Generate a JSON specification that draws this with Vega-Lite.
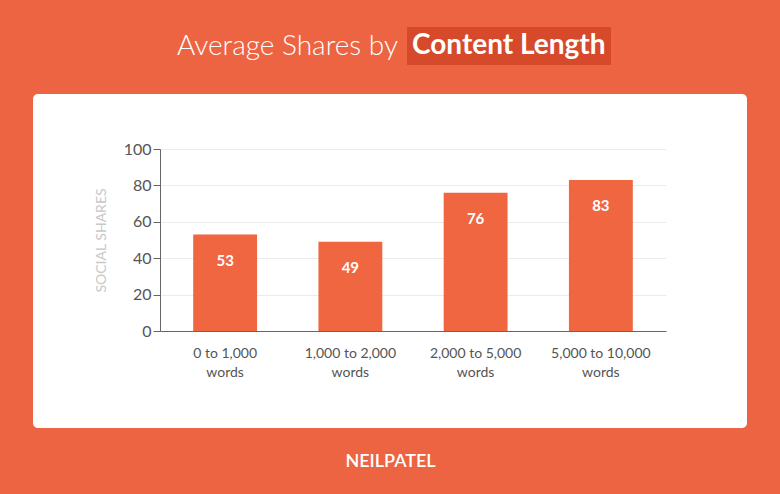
{
  "$schema": "https://vega.github.io/schema/vega-lite/v6.json",
  "width": 714,
  "height": 334,
  "autosize": {"type": "none"},
  "padding": {"left": 33, "top": 94, "right": 33, "bottom": 66},
  "background": "#EC6441",
  "title": {
    "text": "Average Shares by",
    "font": "Lato",
    "fontWeight": 300,
    "fontSize": 28,
    "color": "white",
    "anchor": "middle",
    "align": "right",
    "dx": 8,
    "baseline": "alphabetic",
    "offset": -56
  },
  "data": {
    "values": [
      {"length": "0 to 1,000 words", "shares": 53},
      {"length": "1,000 to 2,000 words", "shares": 49},
      {"length": "2,000 to 5,000 words", "shares": 76},
      {"length": "5,000 to 10,000 words", "shares": 83}
    ]
  },
  "encoding": {
    "x": {
      "field": "length",
      "type": "nominal",
      "sort": null,
      "scale": {"range": [127, 633], "paddingInner": 0.49, "paddingOuter": 0.265},
      "axis": {
        "title": "NEILPATEL",
        "offset": -97,
        "domainColor": "#666666",
        "ticks": false,
        "labelAngle": 0,
        "labelExpr": "[replace(datum.label, ' words', ''), 'words']",
        "labelFont": "Lato",
        "labelFontSize": 14,
        "labelColor": "#555555",
        "labelLineHeight": 19,
        "labelPadding": 15,
        "titleX": 357,
        "titleY": 130,
        "titleFont": "Lato",
        "titleColor": "white",
        "titleFontSize": 18,
        "titleFontWeight": 600,
        "titleBaseline": "middle",
        "titleAlign": "center"
      }
    },
    "y": {
      "field": "shares",
      "type": "quantitative",
      "scale": {"domain": [0, 100], "range": [237, 55], "nice": false},
      "axis": {
        "title": "SOCIAL SHARES",
        "values": [0, 20, 40, 60, 80, 100],
        "offset": -127,
        "grid": true,
        "gridColor": "#EBEBEB",
        "domainColor": "#666666",
        "tickColor": "#666666",
        "tickSize": 7,
        "labelFont": "Lato",
        "labelFontSize": 16,
        "labelColor": "#555555",
        "labelPadding": 2,
        "titleFont": "Lato",
        "titleColor": "#C8C8C8",
        "titleFontSize": 14,
        "titleFontWeight": "normal",
        "titlePadding": 15
      }
    }
  },
  "layer": [
    {
      "mark": {"type": "bar", "color": "#EF6641"},
      "encoding": {
        "color": {
          "field": "length",
          "type": "nominal",
          "sort": null,
          "scale": {"range": ["#EF6641"]},
          "legend": {
            "title": "Content Length",
            "values": [],
            "orient": "none",
            "legendX": 374,
            "legendY": -67,
            "fillColor": "#D64A2B",
            "padding": 5,
            "titleFont": "Lato",
            "titleFontSize": 28,
            "titleFontWeight": "bold",
            "titleColor": "white",
            "titlePadding": 0,
            "titleLimit": 0
          }
        }
      }
    },
    {
      "mark": {
        "type": "text",
        "baseline": "middle",
        "dy": 26,
        "color": "white",
        "font": "Lato",
        "fontWeight": "bold",
        "fontSize": 15
      },
      "encoding": {"text": {"field": "shares", "type": "quantitative"}}
    }
  ],
  "config": {
    "view": {"fill": "white", "stroke": null, "cornerRadius": 5}
  }
}
